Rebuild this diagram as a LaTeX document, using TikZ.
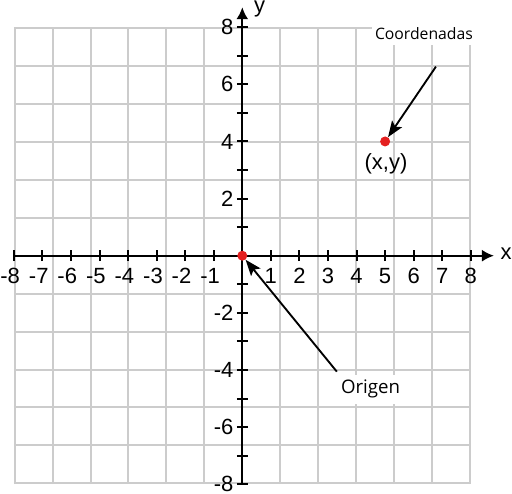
\documentclass[tikz,border=0pt]{standalone}
\usepackage{fontspec}
\setmainfont{Liberation Sans}
\newfontfamily\notefont{Open Sans}
\usetikzlibrary{arrows.meta}

\begin{document}
\begin{tikzpicture}[x=21.42pt,y=21.42pt,
  gridline/.style={color={rgb,255:red,204;green,204;blue,204},line width=1.5pt},
  axisline/.style={line width=1.5pt,-{Latex[length=9pt,width=9pt]}},
  tickmark/.style={line width=1.5pt},
  numlabel/.style={inner sep=0pt,font=\fontsize{16.5}{18}\selectfont},
  reddot/.style={circle,fill={rgb,255:red,228;green,32;blue,32},inner sep=0pt,minimum size=7.5pt},
  notebox/.style={fill=white,inner xsep=2pt,inner ysep=4pt},
  pointer/.style={line width=1.4pt,-{Stealth[length=12pt,width=9pt,inset=2.5pt]}}]
\useasboundingbox (-8.484,-8.309) rectangle (9.443,8.953);

%Grid
\draw[gridline] (-8,-8) grid (8,8);

%Axes
\draw[axisline] (-8,0) -- (8.81,0);
\draw[axisline] (0,-8) -- (0,8.70);

%Ticks
\foreach \i in {-8,...,-1,1,2,...,8} {
  \draw[tickmark] (\i,-0.19) -- (\i,0.19);
  \draw[tickmark] (-0.19,\i) -- (0.19,\i);
}

% Text Node
\foreach \i in {1,...,8} {
  \node[numlabel] (xp\i) at (\i,-0.71) {\i};
  \node[numlabel] (xn\i) at (-\i,-0.71) {\llap{-}\i};
}
\foreach \i in {2,4,6,8} {
  \node[numlabel,anchor=east] (yp\i) at (-0.3,\i) {\i};
  \node[numlabel,anchor=east] (yn\i) at (-0.3,-\i) {-\i};
}
\node[numlabel,anchor=base] (xlab) at (9.24,-0.15) {x};
\node[numlabel,anchor=base] (ylab) at (0.61,8.53) {y};

%Points
\node[reddot] (origin) at (0,0) {};
\node[reddot] (point) at (5,4) {};
\node[numlabel] (pointlab) at (5.03,3.21) {(x,y)};

%Straight Lines
\coordinate (coordtail) at (6.78,6.62);
\coordinate (origtail) at (3.31,-4.06);
\draw[pointer] (coordtail) -- (point);
\draw[pointer] (origtail) -- (origin);

% Text Node
\node[notebox,font=\notefont\fontsize{11.8}{14}\selectfont] (coordnote) at (6.36,7.78) {Coordenadas};
\node[notebox,font=\notefont\fontsize{14}{16}\selectfont] (orignote) at (4.49,-4.67) {Origen};

\end{tikzpicture}
\end{document}
